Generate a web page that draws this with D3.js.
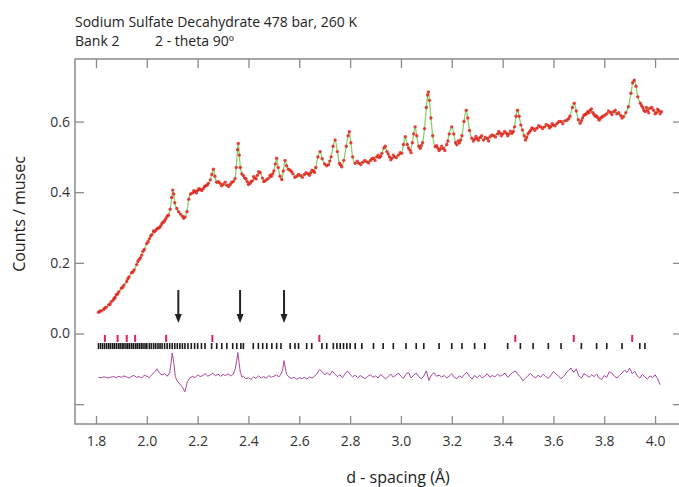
<!DOCTYPE html>
<html lang="en">
    <head>
        <meta charset="UTF-8">
        <title>Sodium Sulfate Decahydrate</title>
        <style>
            body { margin: 0; background: #fff; }
            text { font-family: "Open Sans", sans-serif; }
        </style>
    </head>
    <script src="https://cdn.jsdelivr.net/npm/d3@7"></script>
    <body>
        <svg width="679" height="487"></svg>
    </body>

    <script>
    // observed counts, [d-spacing, counts/musec] (these also trace the calculated profile)
    var observed = [
        [1.810,0.060],[1.820,0.064],[1.830,0.068],[1.840,0.074],[1.850,0.081],[1.860,0.090],[1.868,0.095],
        [1.875,0.102],[1.880,0.110],[1.890,0.118],[1.900,0.128],[1.910,0.137],[1.921,0.147],[1.930,0.160],
        [1.940,0.172],[1.950,0.180],[1.960,0.195],[1.970,0.210],[1.975,0.214],[1.980,0.222],[1.990,0.238],
        [2.000,0.255],[2.010,0.268],[2.020,0.280],[2.026,0.290],[2.035,0.292],[2.045,0.298],[2.055,0.305],
        [2.065,0.315],[2.075,0.325],[2.085,0.335],[2.092,0.352],[2.098,0.385],[2.102,0.406],[2.106,0.395],
        [2.110,0.370],[2.118,0.354],[2.125,0.345],[2.132,0.338],[2.140,0.332],[2.150,0.330],[2.158,0.345],
        [2.165,0.380],[2.172,0.395],[2.180,0.398],[2.190,0.402],[2.200,0.405],[2.210,0.408],[2.222,0.410],
        [2.232,0.418],[2.242,0.425],[2.250,0.435],[2.256,0.450],[2.262,0.465],[2.268,0.445],[2.275,0.428],
        [2.288,0.425],[2.300,0.422],[2.315,0.420],[2.328,0.422],[2.340,0.430],[2.347,0.438],[2.352,0.470],
        [2.357,0.520],[2.360,0.538],[2.364,0.505],[2.368,0.470],[2.374,0.452],[2.385,0.440],[2.395,0.430],
        [2.406,0.425],[2.415,0.432],[2.425,0.440],[2.435,0.448],[2.446,0.455],[2.455,0.440],[2.465,0.432],
        [2.472,0.436],[2.480,0.440],[2.490,0.445],[2.500,0.460],[2.506,0.480],[2.511,0.496],[2.517,0.470],
        [2.524,0.445],[2.531,0.436],[2.537,0.460],[2.544,0.490],[2.550,0.475],[2.557,0.465],[2.564,0.462],
        [2.575,0.452],[2.590,0.445],[2.605,0.447],[2.620,0.450],[2.635,0.452],[2.645,0.455],[2.656,0.460],
        [2.665,0.470],[2.673,0.500],[2.682,0.515],[2.690,0.495],[2.700,0.480],[2.708,0.475],[2.715,0.478],
        [2.725,0.500],[2.733,0.530],[2.741,0.548],[2.750,0.515],[2.758,0.482],[2.767,0.472],[2.775,0.490],
        [2.785,0.530],[2.792,0.560],[2.797,0.571],[2.803,0.540],[2.810,0.500],[2.820,0.482],[2.835,0.482],
        [2.850,0.485],[2.866,0.486],[2.880,0.490],[2.892,0.496],[2.905,0.500],[2.915,0.498],[2.925,0.510],
        [2.933,0.525],[2.938,0.530],[2.945,0.515],[2.955,0.500],[2.964,0.496],[2.975,0.500],[2.990,0.505],
        [3.003,0.510],[3.010,0.535],[3.017,0.557],[3.025,0.535],[3.036,0.519],[3.045,0.540],[3.050,0.565],
        [3.056,0.585],[3.062,0.560],[3.070,0.530],[3.076,0.524],[3.085,0.540],[3.093,0.580],[3.100,0.640],
        [3.105,0.675],[3.108,0.684],[3.112,0.660],[3.118,0.610],[3.125,0.560],[3.135,0.529],[3.145,0.525],
        [3.155,0.522],[3.167,0.524],[3.180,0.535],[3.190,0.565],[3.200,0.585],[3.208,0.565],[3.215,0.540],
        [3.220,0.534],[3.230,0.540],[3.240,0.560],[3.248,0.600],[3.257,0.632],[3.263,0.610],[3.270,0.575],
        [3.279,0.553],[3.290,0.550],[3.300,0.552],[3.312,0.555],[3.325,0.548],[3.340,0.552],[3.351,0.557],
        [3.365,0.560],[3.380,0.565],[3.390,0.567],[3.400,0.565],[3.415,0.567],[3.425,0.565],[3.437,0.567],
        [3.447,0.585],[3.453,0.615],[3.459,0.632],[3.465,0.615],[3.472,0.590],[3.478,0.576],[3.485,0.560],
        [3.490,0.548],[3.500,0.565],[3.510,0.575],[3.520,0.580],[3.535,0.581],[3.550,0.585],[3.565,0.585],
        [3.580,0.588],[3.590,0.586],[3.600,0.590],[3.615,0.595],[3.630,0.600],[3.645,0.602],[3.653,0.604],
        [3.665,0.615],[3.675,0.640],[3.682,0.652],[3.690,0.630],[3.698,0.605],[3.705,0.595],[3.715,0.610],
        [3.725,0.620],[3.735,0.628],[3.745,0.632],[3.755,0.625],[3.765,0.615],[3.775,0.610],[3.784,0.609],
        [3.795,0.615],[3.810,0.622],[3.825,0.626],[3.837,0.628],[3.850,0.622],[3.865,0.617],[3.876,0.614],
        [3.885,0.625],[3.895,0.642],[3.905,0.680],[3.912,0.710],[3.918,0.717],[3.925,0.700],[3.932,0.670],
        [3.942,0.652],[3.952,0.640],[3.961,0.628],[3.970,0.632],[3.980,0.638],[3.994,0.632],[4.005,0.625],
        [4.015,0.630],[4.025,0.628]
    ];

    // further observed points that scatter about the profile
    var observedScatter = [
        [1.815,0.063],[1.835,0.072],[1.855,0.083],[1.872,0.100],[1.885,0.112],[1.905,0.131],[1.925,0.155],
        [1.945,0.174],[1.965,0.204],[1.985,0.233],[2.005,0.260],[2.015,0.276],[2.030,0.288],[2.040,0.297],
        [2.050,0.300],[2.060,0.312],[2.070,0.319],[2.080,0.332],[2.145,0.326],[2.185,0.404],[2.195,0.398],
        [2.205,0.410],[2.216,0.405],[2.227,0.416],[2.237,0.420],[2.282,0.430],[2.294,0.418],[2.308,0.428],
        [2.322,0.416],[2.334,0.428],[2.380,0.447],[2.390,0.438],[2.400,0.422],[2.410,0.430],[2.420,0.444],
        [2.430,0.438],[2.440,0.458],[2.460,0.430],[2.485,0.448],[2.495,0.452],[2.570,0.458],[2.582,0.442],
        [2.597,0.450],[2.612,0.442],[2.627,0.455],[2.640,0.448],[2.650,0.462],[2.660,0.456],[2.720,0.488],
        [2.762,0.478],[2.828,0.488],[2.842,0.478],[2.858,0.490],[2.873,0.483],[2.886,0.495],[2.898,0.490],
        [2.910,0.505],[2.920,0.502],[2.950,0.508],[2.960,0.492],[2.970,0.505],[2.982,0.498],[2.997,0.512],
        [3.030,0.525],[3.040,0.512],[3.080,0.532],[3.140,0.532],[3.150,0.518],[3.160,0.530],[3.173,0.518],
        [3.185,0.545],[3.225,0.545],[3.235,0.548],[3.285,0.545],[3.295,0.558],[3.305,0.547],[3.318,0.560],
        [3.332,0.555],[3.345,0.545],[3.358,0.562],[3.372,0.556],[3.385,0.572],[3.395,0.560],[3.408,0.572],
        [3.420,0.560],[3.431,0.573],[3.442,0.572],[3.495,0.555],[3.505,0.570],[3.515,0.582],[3.527,0.575],
        [3.542,0.588],[3.557,0.580],[3.572,0.592],[3.585,0.582],[3.595,0.594],[3.607,0.588],[3.622,0.600],
        [3.637,0.594],[3.660,0.608],[3.710,0.602],[3.720,0.618],[3.730,0.622],[3.740,0.625],[3.750,0.636],
        [3.760,0.620],[3.770,0.616],[3.780,0.604],[3.790,0.612],[3.802,0.618],[3.817,0.630],[3.830,0.620],
        [3.843,0.632],[3.857,0.625],[3.870,0.610],[3.947,0.645],[3.956,0.632],[3.966,0.640],[3.975,0.625],
        [3.987,0.640],[4.000,0.622],[4.010,0.635],[4.020,0.622]
    ];

    // difference curve (observed - calculated, offset)
    var difference = [
        [1.81,-0.124],[1.82,-0.125],[1.83,-0.123],[1.84,-0.124],[1.85,-0.126],[1.86,-0.123],[1.87,-0.122],
        [1.88,-0.125],[1.89,-0.121],[1.90,-0.124],[1.91,-0.120],[1.92,-0.123],[1.93,-0.126],[1.94,-0.121],
        [1.95,-0.119],[1.96,-0.124],[1.97,-0.122],[1.98,-0.126],[1.99,-0.118],[2.00,-0.121],[2.01,-0.125],
        [2.02,-0.116],[2.03,-0.110],[2.04,-0.100],[2.05,-0.112],[2.06,-0.117],[2.07,-0.114],[2.08,-0.121],
        [2.09,-0.112],[2.095,-0.085],[2.100,-0.055],[2.106,-0.082],[2.112,-0.122],[2.12,-0.135],[2.13,-0.143],
        [2.14,-0.152],[2.15,-0.165],[2.155,-0.150],[2.16,-0.135],[2.17,-0.126],[2.18,-0.121],[2.19,-0.125],
        [2.20,-0.117],[2.21,-0.122],[2.22,-0.119],[2.23,-0.114],[2.24,-0.121],[2.25,-0.117],[2.26,-0.112],
        [2.27,-0.120],[2.28,-0.115],[2.29,-0.121],[2.30,-0.116],[2.31,-0.119],[2.32,-0.114],[2.33,-0.120],
        [2.34,-0.115],[2.348,-0.100],[2.353,-0.080],[2.358,-0.054],[2.363,-0.082],[2.368,-0.110],[2.375,-0.124],
        [2.38,-0.121],[2.39,-0.128],[2.40,-0.125],[2.41,-0.130],[2.42,-0.123],[2.43,-0.127],[2.44,-0.120],
        [2.45,-0.126],[2.46,-0.122],[2.47,-0.127],[2.48,-0.119],[2.49,-0.124],[2.50,-0.121],[2.51,-0.117],
        [2.52,-0.123],[2.53,-0.112],[2.535,-0.100],[2.540,-0.077],[2.545,-0.098],[2.55,-0.115],[2.56,-0.124],
        [2.57,-0.127],[2.58,-0.124],[2.59,-0.130],[2.60,-0.125],[2.61,-0.128],[2.62,-0.124],[2.63,-0.129],
        [2.64,-0.123],[2.65,-0.126],[2.66,-0.121],[2.67,-0.113],[2.68,-0.102],[2.69,-0.108],[2.70,-0.117],
        [2.71,-0.111],[2.72,-0.118],[2.73,-0.106],[2.74,-0.115],[2.75,-0.122],[2.76,-0.117],[2.77,-0.125],
        [2.78,-0.114],[2.79,-0.106],[2.80,-0.116],[2.81,-0.123],[2.82,-0.118],[2.83,-0.125],[2.84,-0.119],
        [2.85,-0.124],[2.86,-0.128],[2.87,-0.121],[2.88,-0.117],[2.89,-0.124],[2.90,-0.120],[2.91,-0.126],
        [2.92,-0.116],[2.93,-0.122],[2.94,-0.129],[2.95,-0.121],[2.96,-0.115],[2.97,-0.124],[2.98,-0.118],
        [2.99,-0.112],[3.00,-0.121],[3.01,-0.127],[3.02,-0.115],[3.03,-0.110],[3.04,-0.126],[3.05,-0.118],
        [3.06,-0.112],[3.07,-0.122],[3.08,-0.128],[3.09,-0.120],[3.10,-0.106],[3.11,-0.133],[3.12,-0.117],
        [3.13,-0.111],[3.14,-0.121],[3.15,-0.118],[3.16,-0.123],[3.17,-0.119],[3.18,-0.126],[3.19,-0.121],
        [3.20,-0.114],[3.21,-0.124],[3.22,-0.128],[3.23,-0.120],[3.24,-0.125],[3.25,-0.116],[3.26,-0.110],
        [3.27,-0.122],[3.28,-0.129],[3.29,-0.119],[3.30,-0.125],[3.31,-0.118],[3.32,-0.126],[3.33,-0.121],
        [3.34,-0.114],[3.35,-0.124],[3.36,-0.119],[3.37,-0.123],[3.38,-0.115],[3.39,-0.121],[3.40,-0.117],
        [3.41,-0.112],[3.42,-0.124],[3.43,-0.117],[3.44,-0.110],[3.45,-0.106],[3.46,-0.116],[3.47,-0.122],
        [3.48,-0.134],[3.49,-0.127],[3.50,-0.119],[3.51,-0.113],[3.52,-0.121],[3.53,-0.126],[3.54,-0.118],
        [3.55,-0.124],[3.56,-0.115],[3.57,-0.122],[3.58,-0.127],[3.59,-0.118],[3.60,-0.108],[3.61,-0.114],
        [3.62,-0.121],[3.63,-0.128],[3.64,-0.122],[3.65,-0.112],[3.66,-0.104],[3.67,-0.098],[3.68,-0.110],
        [3.69,-0.100],[3.70,-0.120],[3.71,-0.126],[3.72,-0.114],[3.73,-0.118],[3.74,-0.124],[3.75,-0.117],
        [3.76,-0.122],[3.77,-0.115],[3.78,-0.126],[3.79,-0.130],[3.80,-0.119],[3.81,-0.124],[3.82,-0.108],
        [3.83,-0.112],[3.84,-0.121],[3.85,-0.126],[3.86,-0.119],[3.87,-0.112],[3.88,-0.104],[3.89,-0.110],
        [3.90,-0.098],[3.91,-0.114],[3.92,-0.107],[3.93,-0.120],[3.94,-0.126],[3.95,-0.116],[3.96,-0.123],
        [3.97,-0.129],[3.98,-0.120],[3.99,-0.125],[4.00,-0.117],[4.01,-0.128],[4.02,-0.145]
    ];

    // reflection positions
    var redReflections = [1.835, 1.885, 1.921, 1.954, 2.076, 2.258, 2.679, 3.45, 3.68, 3.91];
    var blackReflections = [
        1.81,1.818,1.826,1.834,1.842,1.85,1.857,1.865,1.872,1.88,1.888,1.895,1.903,1.91,1.918,1.925,
        1.932,1.94,1.947,1.955,1.962,1.97,1.978,1.985,1.993,2.0,2.01,2.018,2.027,2.035,2.044,2.052,
        2.06,2.07,2.08,2.09,2.1,2.11,2.12,2.13,2.14,2.15,2.162,2.175,2.188,2.2,2.215,
        2.229,2.255,2.275,2.295,2.315,2.338,2.354,2.37,2.38,2.419,2.439,2.456,2.472,2.492,2.511,2.528,
        2.564,2.583,2.597,2.629,2.649,2.689,2.708,2.734,2.748,2.761,2.774,2.787,2.8,2.82,2.846,2.892,
        2.93,2.97,3.02,3.06,3.09,3.15,3.2,3.24,3.29,3.33,3.42,3.47,3.52,3.58,3.63,3.71,3.77,3.81,3.87,3.94,3.96
    ];
    var arrowPositions = [2.124, 2.367, 2.54];

    var xTicks = [1.8, 2.0, 2.2, 2.4, 2.6, 2.8, 3.0, 3.2, 3.4, 3.6, 3.8, 4.0];
    var yTicks = [-0.2, 0.0, 0.2, 0.4, 0.6];

    var svg = d3.select("svg");
    var plotLeft = 75, plotRight = 682, plotTop = 59, plotBottom = 424;

    var x = d3.scaleLinear().domain([1.7174, 4.106]).range([plotLeft, plotRight]);
    var y = d3.scaleLinear().domain([-0.2562, 0.7771]).range([plotBottom, plotTop]);

    // titles
    svg.append("text").attr("x", 75).attr("y", 27).attr("font-size", 14).attr("fill", "#222")
        .text("Sodium Sulfate Decahydrate 478 bar, 260 K");
    svg.append("text").attr("x", 75).attr("y", 46).attr("font-size", 14).attr("fill", "#222")
        .text("Bank 2");
    svg.append("text").attr("x", 155).attr("y", 46).attr("font-size", 14).attr("fill", "#222")
        .text("2 - theta 90º");

    // frame
    svg.append("rect")
        .attr("x", plotLeft).attr("y", plotTop).attr("width", plotRight - plotLeft).attr("height", plotBottom - plotTop)
        .attr("fill", "none").attr("stroke", "#8a8a8a").attr("stroke-width", 1.5);

    var fmt = d3.format(".1f");
    function styleAxis(g) {
        g.select(".domain").remove();
        g.selectAll(".tick line").attr("stroke", "#8a8a8a").attr("stroke-width", 1.3);
        g.selectAll(".tick text").attr("fill", "#333").attr("font-size", 14)
            .attr("font-family", "Open Sans, sans-serif");
    }

    svg.append("g").attr("transform", "translate(0," + plotBottom + ")")
        .call(d3.axisBottom(x).tickValues(xTicks).tickFormat(fmt).tickSize(-8).tickPadding(12))
        .call(styleAxis);
    svg.append("g").attr("transform", "translate(0," + plotTop + ")")
        .call(d3.axisTop(x).tickValues(xTicks).tickFormat("").tickSize(-9))
        .call(styleAxis);
    svg.append("g").attr("transform", "translate(" + plotLeft + ",0)")
        .call(d3.axisLeft(y).tickValues(yTicks).tickSize(-9).tickPadding(5)
            .tickFormat(function(d) { return d < -0.1 ? "" : fmt(Math.abs(d)); }))
        .call(styleAxis);
    svg.append("g").attr("transform", "translate(" + plotRight + ",0)")
        .call(d3.axisRight(y).tickValues(yTicks).tickFormat("").tickSize(-9))
        .call(styleAxis);

    // axis titles
    svg.append("text")
        .attr("transform", "translate(25,214) rotate(-90)")
        .attr("text-anchor", "middle").attr("font-size", 16).attr("fill", "#222")
        .text("Counts / musec");
    svg.append("text")
        .attr("x", 398).attr("y", 483)
        .attr("text-anchor", "middle").attr("font-size", 16).attr("fill", "#222")
        .text("d - spacing (Å)");

    // calculated profile (green) under observed points
    svg.append("path")
        .datum(observed)
        .attr("d", d3.line().x(function(d) { return x(d[0]); }).y(function(d) { return y(d[1]); })
            .curve(d3.curveMonotoneX))
        .attr("fill", "none").attr("stroke", "#8ccf6e").attr("stroke-width", 1.3);

    var allObserved = observed.concat(observedScatter);
    svg.append("g").selectAll("circle")
        .data(allObserved)
        .join("circle")
        .attr("cx", function(d) { return x(d[0]); })
        .attr("cy", function(d) { return y(d[1]); })
        .attr("r", 1.7)
        .attr("fill", "#e3251f")
        .attr("fill-opacity", 0.85);

    // difference
    svg.append("path")
        .datum(difference)
        .attr("d", d3.line().x(function(d) { return x(d[0]); }).y(function(d) { return y(d[1]); }))
        .attr("fill", "none").attr("stroke", "#a8469e").attr("stroke-width", 1);

    // reflection markers
    svg.append("g").selectAll("rect")
        .data(blackReflections)
        .join("rect")
        .attr("x", function(d) { return x(d) - 0.8; })
        .attr("y", y(-0.027))
        .attr("width", 1.6)
        .attr("height", y(-0.044) - y(-0.027))
        .attr("fill", "#1a1a1a");

    svg.append("g").selectAll("rect")
        .data(redReflections)
        .join("rect")
        .attr("x", function(d) { return x(d) - 1; })
        .attr("y", y(-0.004))
        .attr("width", 2)
        .attr("height", y(-0.024) - y(-0.004))
        .attr("fill", "#e0245a");

    // arrows
    var arrows = svg.append("g").selectAll("g")
        .data(arrowPositions)
        .join("g");
    arrows.append("line")
        .attr("x1", function(d) { return x(d); })
        .attr("x2", function(d) { return x(d); })
        .attr("y1", y(0.123))
        .attr("y2", y(0.045))
        .attr("stroke", "#222").attr("stroke-width", 2);
    arrows.append("path")
        .attr("d", function(d) {
            var cx = x(d), ty = y(0.03);
            return "M" + (cx - 3.5) + "," + (ty - 9) + "L" + (cx + 3.5) + "," + (ty - 9) + "L" + cx + "," + ty + "Z";
        })
        .attr("fill", "#222");
    </script>
</html>
